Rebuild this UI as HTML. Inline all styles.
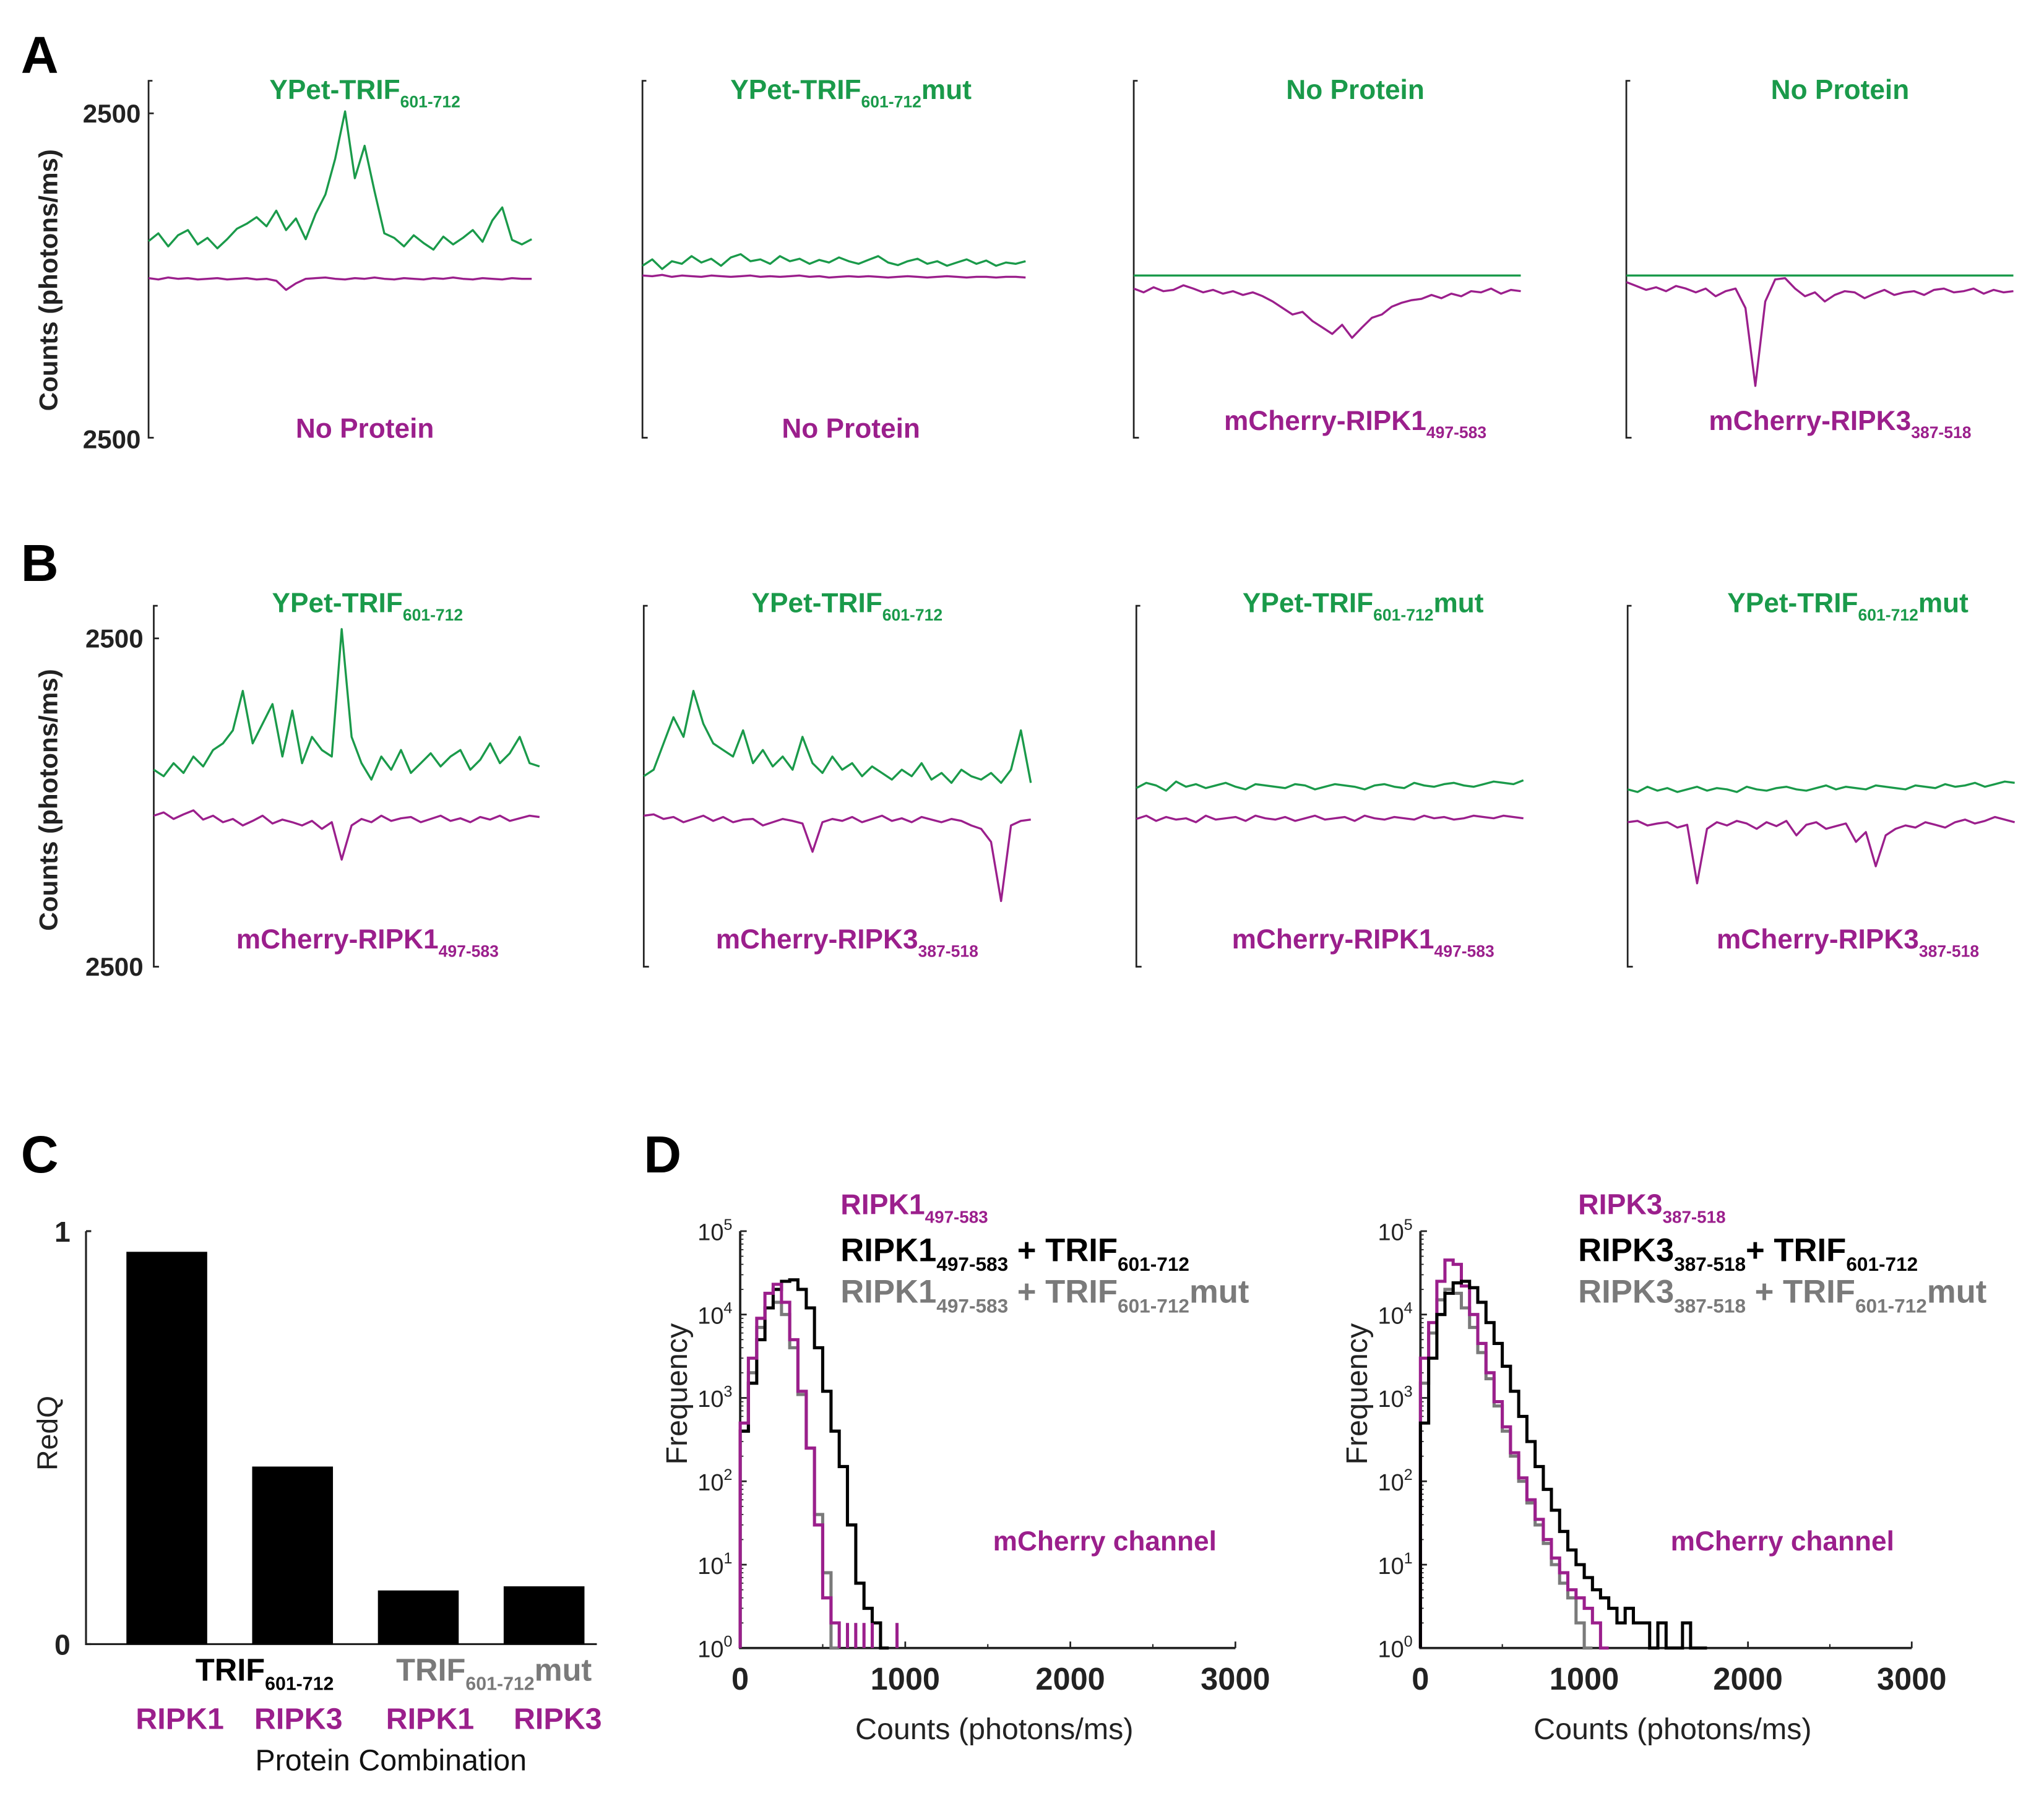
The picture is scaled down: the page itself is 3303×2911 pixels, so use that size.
<!DOCTYPE html>
<html><head><meta charset="utf-8"><style>
html,body{margin:0;padding:0;background:#fff;}
svg{display:block;font-family:"Liberation Sans",Arial,sans-serif;}
.b{font-weight:bold;}
</style></head><body>
<svg id="fig" width="3303" height="2911" viewBox="0 0 1568.5 1382.4" preserveAspectRatio="none" xmlns="http://www.w3.org/2000/svg">
<rect x="0" y="0" width="1570" height="1385" fill="#fff"/>
<g id="texts">
<text x="16" y="56" font-size="40" class="b">A</text>
<text x="16" y="446" font-size="40" class="b">B</text>
<text x="16" y="900" font-size="40" class="b">C</text>
<text x="494" y="900" font-size="40" class="b">D</text>
<text transform="translate(44,215) rotate(-90)" text-anchor="middle" font-size="20" class="b" fill="#222">Counts (photons/ms)</text>
<text transform="translate(44,614) rotate(-90)" text-anchor="middle" font-size="20" class="b" fill="#222">Counts (photons/ms)</text>
<text x="108" y="94" text-anchor="end" font-size="20" class="b" fill="#222">2500</text>
<text x="108" y="344" text-anchor="end" font-size="20" class="b" fill="#222">2500</text>
<text x="110" y="497" text-anchor="end" font-size="20" class="b" fill="#222">2500</text>
<text x="110" y="749" text-anchor="end" font-size="20" class="b" fill="#222">2500</text>
</g>
<g id="traces"></g>
<g id="barc"></g>
<g id="hists"></g>
</svg>
<script>
// ---------- Panels A/B trace data (counts, photons/ms) ----------
const a1Green=[530,650,450,620,700,480,580,420,560,720,800,900,760,1000,700,880,560,950,1250,1800,2530,1500,2000,1300,650,580,450,620,500,400,600,480,580,700,520,850,1050,550,480,560];
const a1Mag=[-40,-60,-30,-50,-40,-60,-50,-40,-60,-50,-40,-60,-50,-80,-220,-120,-50,-40,-30,-50,-60,-40,-50,-30,-50,-60,-40,-50,-60,-40,-50,-30,-50,-60,-40,-50,-60,-40,-50,-50];
const a2Green=[150,250,100,220,180,300,200,260,150,280,330,220,250,180,300,220,260,180,240,200,280,220,180,240,300,200,160,220,260,180,220,150,200,250,180,230,150,200,180,220];
const a2Mag=[0,-10,10,-20,0,-10,-20,0,-10,-20,-10,0,-20,-10,-20,-10,0,-20,-10,-30,-20,-10,-20,-10,-20,-30,-20,-10,-20,-30,-20,-10,-20,-30,-20,-20,-30,-20,-20,-30];
const a3Green=[0,0,0,0,0,0,0,0,0,0];
const a3Mag=[-200,-260,-180,-240,-220,-150,-200,-260,-220,-280,-240,-300,-260,-320,-400,-500,-600,-560,-700,-800,-900,-760,-960,-800,-650,-600,-480,-420,-380,-360,-300,-350,-280,-320,-240,-260,-200,-280,-220,-240];
const a4Green=[0,0,0,0,0,0,0,0,0,0];
const a4Mag=[-100,-160,-220,-180,-240,-160,-200,-260,-200,-320,-240,-200,-500,-1700,-400,-60,-40,-200,-320,-260,-400,-300,-240,-260,-350,-280,-220,-300,-260,-240,-300,-220,-200,-260,-240,-200,-280,-220,-260,-240];
const b1Green=[500,400,600,450,700,550,800,900,1100,1700,900,1200,1500,700,1400,600,1000,800,700,2640,1000,600,350,700,500,800,450,600,750,550,700,800,500,650,900,600,750,1000,600,550];
const b1Mag=[-200,-150,-250,-180,-120,-260,-200,-300,-250,-350,-280,-200,-320,-260,-300,-350,-280,-400,-300,-870,-350,-250,-300,-200,-280,-240,-220,-300,-250,-200,-280,-240,-300,-220,-260,-200,-280,-240,-200,-220];
const b2Green=[400,500,900,1300,1000,1700,1200,900,800,700,1100,600,800,550,700,500,1000,600,450,700,500,600,400,550,450,350,500,400,600,350,450,300,500,400,350,450,300,500,1100,300];
const b2Mag=[-200,-180,-250,-220,-300,-250,-200,-280,-220,-300,-260,-250,-350,-300,-250,-280,-320,-750,-300,-250,-280,-220,-300,-250,-200,-280,-240,-300,-220,-260,-300,-250,-280,-350,-400,-600,-1500,-350,-280,-260];
const b3Green=[220,300,260,180,320,240,280,220,260,300,240,200,280,260,240,220,280,260,200,240,280,260,240,200,260,280,240,220,300,260,240,280,300,260,240,280,320,300,280,340];
const b3Mag=[-250,-200,-280,-220,-260,-240,-300,-200,-260,-240,-220,-280,-200,-240,-260,-220,-280,-240,-200,-260,-240,-220,-280,-200,-240,-260,-220,-240,-260,-200,-240,-220,-260,-240,-200,-220,-240,-200,-220,-240];
const b4Green=[200,160,240,180,220,160,200,240,180,220,200,160,240,200,180,220,240,200,180,220,260,200,240,220,200,260,240,220,200,260,240,220,280,240,260,300,240,280,320,300];
const b4Mag=[-300,-280,-350,-320,-300,-380,-340,-1230,-400,-300,-350,-280,-320,-400,-300,-360,-280,-500,-340,-300,-400,-360,-320,-600,-450,-970,-500,-400,-350,-380,-300,-340,-380,-300,-260,-320,-280,-220,-260,-300];

// ---------- Panel C data ----------
const redqCategories=["TRIF-RIPK1","TRIF-RIPK3","TRIFmut-RIPK1","TRIFmut-RIPK3"];
const redqValues=[0.95,0.43,0.13,0.14];
const redqTicks=[0,1];

// ---------- Panel D data (50-count bins, frequencies) ----------
const binWidth=50;
const d1Magenta=[500,3000,9000,18000,23000,14000,5000,1200,250,30,4,2];
const d1Black=[400,1500,5000,12000,20000,25000,26000,20000,12000,4000,1200,400,150,30,6,3,2,1];
const d1Gray=[400,2000,7000,12000,14000,10000,4000,1100,250,40,8,1];
const d1MagSpikes=[650,700,750,800,950];
const d2Magenta=[3000,8000,25000,45000,40000,22000,10000,4500,2000,900,450,220,110,60,35,20,12,8,5,4,3,2,1];
const d2Black=[500,3000,10000,18000,24000,25000,21000,14000,8000,4500,2400,1200,600,300,150,80,45,25,15,10,7,5,4,3,2,3,2,2,1,2,1,1,2,1,1];
const d2Gray=[1500,6000,15000,20000,18000,12000,7000,3500,1700,800,400,200,100,55,30,18,10,6,4,2,1];
const xTicks=[0,1000,2000,3000];
const yTickExp=[0,1,2,3,4,5];

const NS="http://www.w3.org/2000/svg";
const GREEN="#1a9a4a",MAG="#9b1f8c",GRAY="#7a7a7a";
function mk(tag,parent,attrs){const e=document.createElementNS(NS,tag);for(const k in attrs)e.setAttribute(k,attrs[k]);parent.appendChild(e);return e;}
function subText(parent,x,y,anchor,size,color,parts){
  const t=mk("text",parent,{x:x,y:y,"text-anchor":anchor,"font-size":size,fill:color,"font-weight":"bold"});
  parts.forEach(p=>{const s=mk("tspan",t,{});s.textContent=p[0];if(p[1]==="sub"){s.setAttribute("font-size",size*0.6);s.setAttribute("dy",size*0.3);}else if(p[1]==="up"){s.setAttribute("dy",-size*0.3);}});
  return t;
}

// ---------- Trace panels ----------
const tg=document.getElementById("traces");
const panels=[
 {x0:114,w:294,top:87,bot:336,g:a1Green,m:a1Mag,tx:280,ty:76,title:[["YPet-TRIF"],["601-712","sub"]],bl:[["No Protein"]],by:336},
 {x0:493,w:294,top:87,bot:336,g:a2Green,m:a2Mag,tx:653,ty:76,title:[["YPet-TRIF"],["601-712","sub"],["mut","up"]],bl:[["No Protein"]],by:336},
 {x0:870,w:297,top:87,bot:336,g:a3Green,m:a3Mag,tx:1040,ty:76,title:[["No Protein"]],bl:[["mCherry-RIPK1"],["497-583","sub"]],by:330},
 {x0:1248,w:297,top:87,bot:336,g:a4Green,m:a4Mag,tx:1412,ty:76,title:[["No Protein"]],bl:[["mCherry-RIPK3"],["387-518","sub"]],by:330},
 {x0:118,w:296,top:490,bot:742,g:b1Green,m:b1Mag,tx:282,ty:470,title:[["YPet-TRIF"],["601-712","sub"]],bl:[["mCherry-RIPK1"],["497-583","sub"]],by:728},
 {x0:494,w:297,top:490,bot:742,g:b2Green,m:b2Mag,tx:650,ty:470,title:[["YPet-TRIF"],["601-712","sub"]],bl:[["mCherry-RIPK3"],["387-518","sub"]],by:728},
 {x0:872,w:297,top:490,bot:742,g:b3Green,m:b3Mag,tx:1046,ty:470,title:[["YPet-TRIF"],["601-712","sub"],["mut","up"]],bl:[["mCherry-RIPK1"],["497-583","sub"]],by:728},
 {x0:1249,w:297,top:490,bot:742,g:b4Green,m:b4Mag,tx:1418,ty:470,title:[["YPet-TRIF"],["601-712","sub"],["mut","up"]],bl:[["mCherry-RIPK3"],["387-518","sub"]],by:728}
];
panels.forEach((p,i)=>{
  const g=mk("g",tg,{});
  
  
  const mid=(p.top+p.bot)/2, sc=(p.bot-p.top)/5000;
  const yOf=v=>mid-v*sc;
  const ax=mk("path",g,{d:`M${p.x0+3},${p.top-25}H${p.x0}V${p.bot}H${p.x0+4}`,stroke:"#222","stroke-width":1.3,fill:"none"});
  
  
  if(i%4===0){
    mk("line",g,{x1:p.x0,x2:p.x0+4,y1:p.top,y2:p.top,stroke:"#222","stroke-width":1.3});
  }
  [[p.m,MAG,'mcherry-trace'],[p.g,GREEN,'ypet-trace']].forEach(s=>{
    const arr=s[0];
    const pts=arr.map((v,k)=>(p.x0+k*p.w/(arr.length-1)).toFixed(1)+","+yOf(v).toFixed(1)).join(" ");
    const pl=mk("polyline",g,{points:pts,fill:"none",stroke:s[1],"stroke-width":1.6,"stroke-linejoin":"round"});
    
    
  });
  const t1=subText(g,p.tx,p.ty,"middle",21,GREEN,p.title);
  
  
  const t2=subText(g,p.tx,p.by,"middle",21,MAG,p.bl);
  
  
});

// ---------- Panel C ----------
const bc=document.getElementById("barc");
const cX0=66,cX1=458,cTop=945,cBot=1262;
const cy=v=>cBot-v*(cBot-cTop);
const cx=i=>128+i*96.5;
const cax=mk("path",bc,{d:`M${cX0},${cTop}V${cBot}H${cX1}`,stroke:"#222","stroke-width":1.5,fill:"none"});


redqTicks.forEach(t=>{
  const tt=mk("text",bc,{x:cX0-12,y:cy(t)+8,"text-anchor":"end","font-size":22,"font-weight":"bold",fill:"#222"});
  tt.textContent=String(t);
  
  
  mk("line",bc,{x1:cX0,x2:cX0+4,y1:cy(t),y2:cy(t),stroke:"#222","stroke-width":1.5});
});
redqValues.forEach((v,i)=>{
  const r=mk("rect",bc,{x:cx(i)-31,y:cy(v),width:62,height:cy(0)-cy(v),fill:"#000"});
  
  
});
const ryl=mk("text",bc,{transform:"translate(44,1100) rotate(-90)","text-anchor":"middle","font-size":22,fill:"#222"});
ryl.textContent="RedQ";


let e;
e=subText(bc,150,1290,"start",24,"#000",[["TRIF"],["601-712","sub"]]);


e=subText(bc,304,1290,"start",24,GRAY,[["TRIF"],["601-712","sub"],["mut","up"]]);


["RIPK1","RIPK3","RIPK1","RIPK3"].forEach((s,i)=>{
  const t=mk("text",bc,{x:[138,229,330,428][i],y:1327,"text-anchor":"middle","font-size":23,"font-weight":"bold",fill:MAG});
  t.textContent=s;
  
  
});
const cxl=mk("text",bc,{x:300,y:1359,"text-anchor":"middle","font-size":23,fill:"#111"});
cxl.textContent="Protein Combination";



// ---------- Panel D ----------
const hg=document.getElementById("hists");
function histPanel(x0,x1,series,spikes,legend,chX){
  const top=945,bot=1265;
  const g=mk("g",hg,{});
  
  
  const X=v=>x0+v/3000*(x1-x0);
  const Y=f=>bot-Math.log10(Math.max(f,1))/5*(bot-top);
  const ax=mk("path",g,{d:`M${x0},${top}V${bot}H${x1}`,stroke:"#222","stroke-width":1.8,fill:"none"});
  
  
  yTickExp.forEach(k=>{
    mk("line",g,{x1:x0,x2:x0+5,y1:Y(Math.pow(10,k)),y2:Y(Math.pow(10,k)),stroke:"#222","stroke-width":1.3});
    if(k<5)for(let m=2;m<10;m++)mk("line",g,{x1:x0,x2:x0+2.5,y1:Y(m*Math.pow(10,k)),y2:Y(m*Math.pow(10,k)),stroke:"#222","stroke-width":0.8});
    const t=mk("text",g,{x:x0-6,y:Y(Math.pow(10,k))+7,"text-anchor":"end","font-size":18,fill:"#222"});
    const s1=mk("tspan",t,{});s1.textContent="10";
    const s2=mk("tspan",t,{"font-size":12,dy:-8});s2.textContent=String(k);
    
    
  });
  xTicks.forEach(v=>{
    mk("line",g,{x1:X(v),x2:X(v),y1:bot,y2:bot-5,stroke:"#222","stroke-width":1.3});
    if(v<3000)mk("line",g,{x1:X(v+500),x2:X(v+500),y1:bot,y2:bot-3,stroke:"#222","stroke-width":1});
    const t=mk("text",g,{x:X(v),y:bot+32,"text-anchor":"middle","font-size":24,"font-weight":"bold",fill:"#222"});
    t.textContent=String(v);
    
    
  });
  series.forEach(s=>{
    const arr=s[0];let d=`M${X(0)},${Y(1)}`;
    arr.forEach((f,i)=>{d+=`V${Y(f).toFixed(1)}H${X((i+1)*binWidth).toFixed(1)}`;});
    d+=`V${Y(1)}`;
    const p=mk("path",g,{d:d,fill:"none",stroke:s[1],"stroke-width":2.4});
    
    
  });
  spikes.forEach(v=>{
    const l=mk("line",g,{x1:X(v),x2:X(v),y1:Y(1),y2:Y(2),stroke:MAG,"stroke-width":2.4});
    
    
  });
  legend.forEach((L,i)=>{
    const t=subText(g,L[3],[932,968,1000][i],"start",i===0?22:25,L[1],L[0]);
    
    
  });
  const ch=mk("text",g,{x:chX,y:1190,"font-size":21,"font-weight":"bold",fill:MAG});
  ch.textContent="mCherry channel";
  
  
  const xl=mk("text",g,{x:(x0+x1)/2+5,y:1335,"text-anchor":"middle","font-size":23,fill:"#222"});
  xl.textContent="Counts (photons/ms)";
  
  
  const yl=mk("text",g,{transform:`translate(${x0-41},1070) rotate(-90)`,"text-anchor":"middle","font-size":23,fill:"#222"});
  yl.textContent="Frequency";
  
  
}
histPanel(568,948,[[d1Gray,GRAY,'gray-hist'],[d1Black,"#000",'black-hist'],[d1Magenta,MAG,'magenta-hist']],d1MagSpikes,
 [[[["RIPK1"],["497-583","sub"]],MAG,0,645],[[["RIPK1"],["497-583","sub"],[" + TRIF","up"],["601-712","sub"]],"#000",0,645],[[["RIPK1"],["497-583","sub"],[" + TRIF","up"],["601-712","sub"],["mut","up"]],GRAY,0,645]],762);
histPanel(1090,1467,[[d2Gray,GRAY,'gray-hist'],[d2Magenta,MAG,'magenta-hist'],[d2Black,"#000",'black-hist']],[],
 [[[["RIPK3"],["387-518","sub"]],MAG,0,1211],[[["RIPK3"],["387-518","sub"],["+ TRIF","up"],["601-712","sub"]],"#000",0,1211],[[["RIPK3"],["387-518","sub"],[" + TRIF","up"],["601-712","sub"],["mut","up"]],GRAY,0,1211]],1282);
</script>
</body></html>
